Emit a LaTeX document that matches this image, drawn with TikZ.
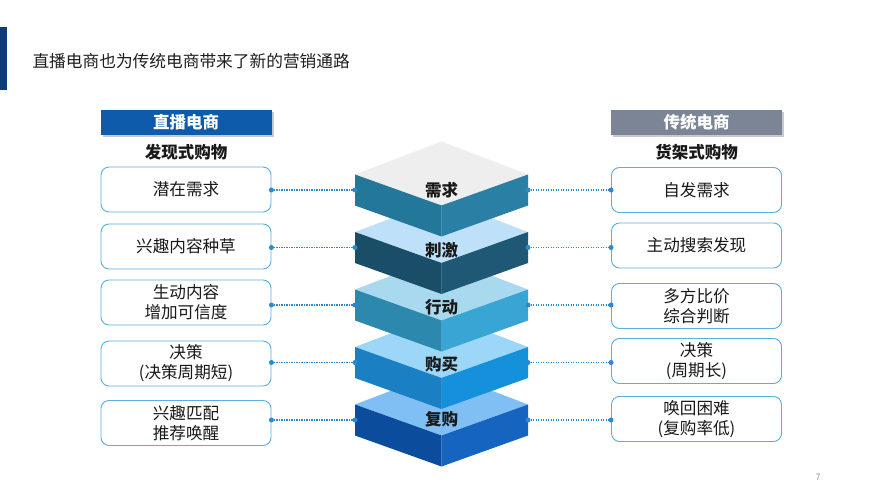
\documentclass[tikz,border=0pt]{standalone}
\usepackage{fontspec}
\setmainfont{Noto Sans CJK SC}
\usetikzlibrary{shadows}
\definecolor{barblue}{HTML}{0E3C7A}
\definecolor{hdblue}{HTML}{0D5BAA}
\definecolor{hdgray}{HTML}{7B8595}
\definecolor{boxline}{HTML}{5AAEE0}
\definecolor{conncol}{HTML}{2A8AD0}
\definecolor{LAt}{HTML}{EEEEEE}\definecolor{LAl}{HTML}{23789A}\definecolor{LAr}{HTML}{2A80A4}
\definecolor{LBt}{HTML}{BEE0F8}\definecolor{LBl}{HTML}{1A4D67}\definecolor{LBr}{HTML}{1E5875}
\definecolor{LCt}{HTML}{A9D9EE}\definecolor{LCl}{HTML}{2C88AC}\definecolor{LCr}{HTML}{38A5D4}
\definecolor{LDt}{HTML}{9CD6F8}\definecolor{LDl}{HTML}{1A7FC3}\definecolor{LDr}{HTML}{1591DC}
\definecolor{LEt}{HTML}{80BFF4}\definecolor{LEl}{HTML}{0B4C9C}\definecolor{LEr}{HTML}{1564BF}
\begin{document}
\begin{tikzpicture}[x=1pt,y=-1pt,
  ibox/.style={draw=boxline,line width=0.9pt,rounded corners=8pt,fill=white,
    minimum width=170pt,minimum height=45pt,align=center,
    font=\fontsize{16.6}{20}\selectfont,text=black!90},
  hdr/.style={minimum width=171pt,minimum height=25pt,text=white,
    font=\bfseries\fontsize{16.5}{18}\selectfont,
    drop shadow={shadow xshift=2pt,shadow yshift=-2pt,opacity=0.35,fill=black!60}},
  sub/.style={font=\bfseries\fontsize{16.5}{18}\selectfont,text=black!90},
  lab/.style={font=\bfseries\fontsize{16.5}{18}\selectfont,text=black!90},
  conn/.style={conncol,line width=1.3pt,dash pattern=on 1.3pt off 1.2pt},
  dotc/.style={fill=conncol}]
\useasboundingbox (0,0) rectangle (889,500);
\fill[white] (0,0) rectangle (889,500);
% title
\fill[barblue] (0,27) rectangle (7,90);
\node[anchor=west,font=\fontsize{16.7}{20}\selectfont,text=black!88] (title) at (29,61) {直播电商也为传统电商带来了新的营销通路};
% headers
\node[hdr,fill=hdblue] (hl) at (186,122.5) {直播电商};
\node[hdr,fill=hdgray] (hr) at (696.5,122.5) {传统电商};
\node[sub] (sl) at (186,152) {发现式购物};
\node[sub] (sr) at (696.5,152) {货架式购物};
% layers (bottom first)
\foreach \i/\y/\cc in {5/404.5/LE,4/347/LD,3/289.5/LC,2/232/LB,1/174.5/LA}{
  \fill[\cc t] (355,\y) -- (441.5,\y-33) -- (528,\y) -- (441.5,\y+31) -- cycle;
  \fill[\cc l] (355,\y) -- (441.5,\y+31) -- (441.5,\y+62) -- (355,\y+31) -- cycle;
  \fill[\cc r] (528,\y) -- (441.5,\y+31) -- (441.5,\y+62) -- (528,\y+31) -- cycle;
  \coordinate (ll\i) at (355,\y+15.5);
  \coordinate (rr\i) at (528,\y+15.5);
}
\node[lab] (lab1) at (441.5,190) {需求};
\node[lab] (lab2) at (441.5,250) {刺激};
\node[lab] (lab3) at (441.5,307) {行动};
\node[lab] (lab4) at (441.5,364) {购买};
\node[lab] (lab5) at (441.5,419) {复购};
% left boxes
\node[ibox] (lb1) at (186,189.5) {潜在需求};
\node[ibox] (lb2) at (186,246.5) {兴趣内容种草};
\node[ibox] (lb3) at (186,302.5) {生动内容\\增加可信度};
\node[ibox] (lb4) at (186,363.5) {决策\\(决策周期短)};
\node[ibox] (lb5) at (186,423) {兴趣匹配\\推荐唤醒};
% right boxes
\node[ibox] (rb1) at (696.5,190) {自发需求};
\node[ibox] (rb2) at (696.5,245.5) {主动搜索发现};
\node[ibox] (rb3) at (696.5,306) {多方比价\\综合判断};
\node[ibox] (rb4) at (696.5,361) {决策\\(周期长)};
\node[ibox] (rb5) at (696.5,419) {唤回困难\\(复购率低)};
% connectors
\foreach \i in {1,...,5}{
  \draw[conn] (lb\i.east |- ll\i) -- (ll\i);
  \draw[conn] (rr\i) -- (rb\i.west |- rr\i);
  \fill[dotc] (lb\i.east |- ll\i) circle (2.5);
  \fill[dotc] (ll\i) circle (2.5);
  \fill[dotc] (rr\i) circle (2.5);
  \fill[dotc] (rb\i.west |- rr\i) circle (2.5);
}
\node[font=\fontsize{9}{10}\selectfont,text=black!40] (pg) at (818,477) {7};
\end{tikzpicture}
\end{document}
